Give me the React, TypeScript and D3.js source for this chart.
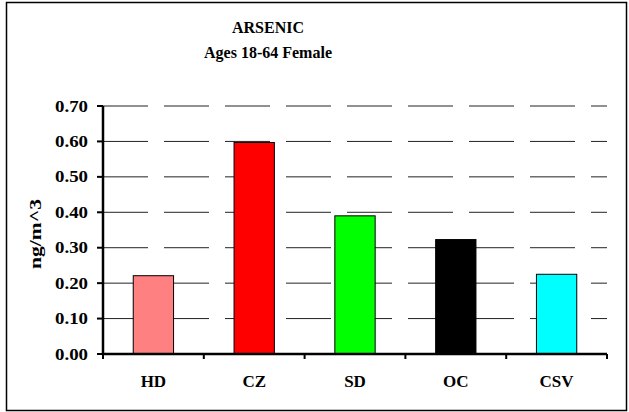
import React from "react";
import * as d3 from "d3";

const categories = ["HD", "CZ", "SD", "OC", "CSV"];
const values = [0.221, 0.597, 0.39, 0.323, 0.225];
const colors = ["#FF8080", "#FF0000", "#00FF00", "#000000", "#00FFFF"];
const yTicks = [0, 0.1, 0.2, 0.3, 0.4, 0.5, 0.6, 0.7];
const title1 = "ARSENIC";
const title2 = "Ages 18-64 Female";
const yLabel = "ng/m^3";

export default function App() {
  const W = 629, H = 412;
  const left = 103, right = 607, top = 106, bottom = 354;
  const x = d3.scaleBand<string>().domain(categories).range([left, right]).paddingInner(0.6).paddingOuter(0.3);
  const y = d3.scaleLinear().domain([0, 0.7]).range([bottom, top]);
  const step = x.step();
  const base: React.CSSProperties = { fontFamily: '"Liberation Serif", "Times New Roman", serif', fontWeight: "bold" };
  const ts = { ...base, fontSize: "16px" };
  const ls = { ...base, fontSize: "17px" };
  return (
    <svg width={W} height={H} style={{ position: "absolute", left: 0, top: 0 }}>
      <rect x={0} y={0} width={W} height={H} fill="#fff" />
      <rect x={6.5} y={2.5} width={620} height={408} fill="none" stroke="#000" strokeWidth={1.5} />
      <text x={268} y={33} textAnchor="middle" style={ts}>{title1}</text>
      <text x={268} y={58} textAnchor="middle" style={ts}>{title2}</text>
      {yTicks.filter(t => t > 0).map(t => (
        <line key={t} x1={left} x2={right} y1={y(t)} y2={y(t)} stroke="#222" strokeWidth={1} strokeDasharray="45,16" />
      ))}
      {categories.map((c, i) => (
        <rect key={c} x={x(c)} y={y(values[i])} width={x.bandwidth()} height={bottom - y(values[i])} fill={colors[i]} stroke="#000" strokeWidth={1} />
      ))}
      <line x1={left} x2={left} y1={top} y2={bottom} stroke="#000" strokeWidth={2.5} />
      <line x1={left - 1} x2={right} y1={bottom} y2={bottom} stroke="#000" strokeWidth={2.5} />
      {yTicks.map(t => (
        <g key={t}>
          <line x1={left - 6} x2={left} y1={y(t)} y2={y(t)} stroke="#000" strokeWidth={2} />
          <text x={55} y={y(t) + 5.5} textLength={33} lengthAdjust="spacingAndGlyphs" style={ls}>{t.toFixed(2)}</text>
        </g>
      ))}
      {d3.range(categories.length + 1).map(i => (
        <line key={i} x1={left + i * step} x2={left + i * step} y1={bottom} y2={bottom + 5} stroke="#000" strokeWidth={2} />
      ))}
      {categories.map(c => (
        <text key={c} x={(x(c) as number) + x.bandwidth() / 2} y={387} textAnchor="middle" style={ls}>{c}</text>
      ))}
      <text transform={`translate(41,269) rotate(-90)`} textLength={70} lengthAdjust="spacingAndGlyphs" style={ls}>{yLabel}</text>
    </svg>
  );
}
